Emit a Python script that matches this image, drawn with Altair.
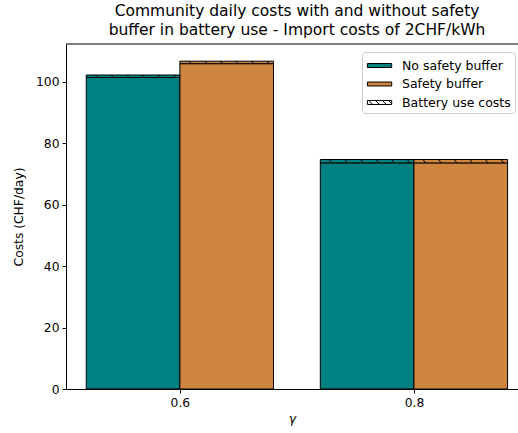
import altair as alt
import pandas as pd

# Values per gamma level
gamma = [0.6, 0.8]
no_buffer_cost = [101.4, 73.6]
no_buffer_battery = [0.8, 1.1]
buffer_cost = [105.9, 73.6]
buffer_battery = [0.8, 1.1]

series_names = ["No safety buffer", "Safety buffer", "Battery use costs"]
series_colors = ["#008080", "#CD853F", "#FFFFFF"]

BAR_W = 0.08
FONT = "DejaVu Sans"

rows = []
for i, g in enumerate(gamma):
    rows.append({"series": series_names[0], "gamma": g, "cost": no_buffer_cost[i],
                 "battery": no_buffer_battery[i], "side": -1})
    rows.append({"series": series_names[1], "gamma": g, "cost": buffer_cost[i],
                 "battery": buffer_battery[i], "side": 0})
bars_df = pd.DataFrame(rows)
bars_df["x0"] = bars_df["gamma"] + bars_df["side"] * BAR_W
bars_df["x1"] = bars_df["x0"] + BAR_W
bars_df["top"] = bars_df["cost"] + bars_df["battery"]

# short "\" hatch strokes across the battery-cost segment
n_hatch = 6
hatch_rows = []
for _, r in bars_df.iterrows():
    step = BAR_W / n_hatch
    for k in range(n_hatch):
        xs = r["x0"] + step * (k + 0.75)
        hatch_rows.append({"hx": xs - step * 0.18, "hx2": xs,
                           "hy": r["top"], "hy2": r["cost"]})
hatch_df = pd.DataFrame(hatch_rows)

legend_df = pd.DataFrame({"series": series_names})

x_scale = alt.Scale(domain=[0.5027, 0.8889], nice=False, zero=False)
y_scale = alt.Scale(domain=[0, 112.3], nice=False)
color_scale = alt.Scale(domain=series_names, range=series_colors)

# wide flat swatches, the last one hatched
rect = "M-0.9,-0.22L1.8,-0.22L1.8,0.22L-0.9,0.22Z"
hatched = rect + (" M-0.75,-0.22L-0.3,0.22 M0,-0.22L0.45,0.22"
                  " M0.75,-0.22L1.2,0.22 M1.45,-0.22L1.8,0.12")
shape_scale = alt.Scale(domain=series_names, range=[rect, rect, hatched])

legend = alt.Legend(orient="none", legendX=296, legendY=8, title=None)

x_axis = alt.Axis(values=gamma, format=".1f", title="γ", grid=False,
                  titleFontStyle="italic")
y_axis = alt.Axis(values=[0, 20, 40, 60, 80, 100], title="Costs (CHF/day)", grid=False)

base_bars = alt.Chart(bars_df).mark_bar(stroke="black", strokeWidth=1, clip=True).encode(
    x=alt.X("x0:Q", scale=x_scale, axis=x_axis),
    x2="x1:Q",
    y=alt.Y("cost:Q", scale=y_scale, axis=y_axis),
    y2=alt.datum(0),
    fill=alt.Fill("series:N", scale=color_scale, legend=legend, title=None),
)

battery_bars = alt.Chart(bars_df).mark_bar(stroke="black", strokeWidth=1, clip=True).encode(
    x="x0:Q",
    x2="x1:Q",
    y="top:Q",
    y2="cost:Q",
    fill=alt.Fill("series:N", scale=color_scale, legend=legend, title=None),
)

hatch = alt.Chart(hatch_df).mark_rule(color="black", strokeWidth=1, clip=True).encode(
    x="hx:Q", x2="hx2:Q", y="hy:Q", y2="hy2:Q",
)

legend_points = alt.Chart(legend_df).mark_point(filled=True, opacity=1, clip=True).encode(
    x=alt.value(-1000),
    y=alt.value(-1000),
    fill=alt.Fill("series:N", scale=color_scale, legend=legend, title=None),
    shape=alt.Shape("series:N", scale=shape_scale, legend=legend, title=None),
)

top_spine = alt.Chart(legend_df.head(1)).mark_rule(color="black", strokeWidth=1).encode(
    x=alt.value(0), x2=alt.value(452), y=alt.value(0)
)

chart = (
    alt.layer(base_bars, battery_bars, hatch, legend_points, top_spine)
    .properties(
        width=452,
        height=345,
        padding={"left": 66, "top": 44, "right": 0, "bottom": 44},
        autosize=alt.AutoSizeParams(type="none"),
        title=alt.TitleParams(
            ["Community daily costs with and without safety",
             "buffer in battery use - Import costs of 2CHF/kWh"],
            font=FONT, fontSize=15.5, fontWeight="normal", color="black",
            anchor="middle", dx=5, offset=5, lineHeight=19,
        ),
    )
    .configure_view(stroke=None)
    .configure_axis(
        labelFont=FONT, titleFont=FONT, labelFontSize=12.3, titleFontSize=12.3,
        labelColor="black", titleColor="black", titleFontWeight="normal",
        domainColor="black", tickColor="black", domainWidth=1, tickWidth=1,
        tickSize=4, labelPadding=3,
    )
    .configure_axisY(titlePadding=10)
    .configure_axisX(titlePadding=4)
    .configure_legend(
        labelFont=FONT, labelFontSize=12.5, labelColor="black",
        symbolSize=324, symbolStrokeColor="black", symbolStrokeWidth=1,
        symbolFillColor="white", symbolOpacity=1,
        strokeColor="#cccccc", fillColor="white", cornerRadius=3,
        padding=4, rowPadding=2.5, labelOffset=17,
    )
)

chart.save("out.html", embed_options={"renderer": "svg", "actions": False})
